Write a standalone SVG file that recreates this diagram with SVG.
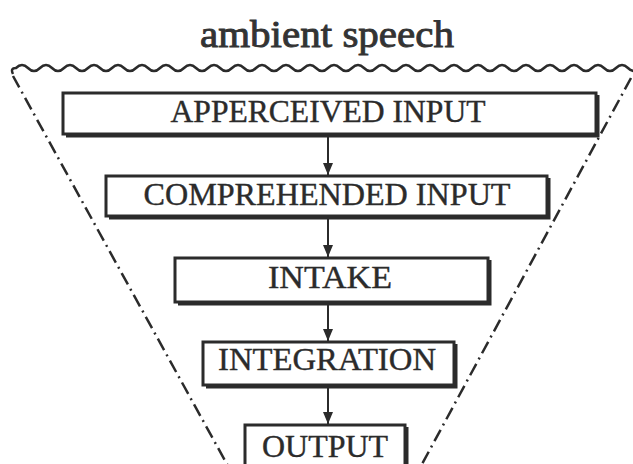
<svg xmlns="http://www.w3.org/2000/svg" width="633" height="464" viewBox="0 0 633 464">
<defs>
<style>
.box{fill:#fff;stroke:#2b2b2b;stroke-width:3}
.shadow{fill:none;stroke:#2b2b2b;stroke-width:3}
.lbl{font-family:"Liberation Serif","Times New Roman",serif;font-size:32px;fill:#2b2b2b;stroke:#2b2b2b;stroke-width:0.4;text-anchor:middle}
.title{font-family:"Liberation Serif","Times New Roman",serif;font-size:38px;fill:#333;stroke:#333;stroke-width:0.9;text-anchor:middle}
.edge{stroke:#2b2b2b;stroke-width:2;fill:none}
.wave{stroke:#2b2b2b;stroke-width:2.5;fill:none}
.dashdot{stroke:#2b2b2b;stroke-width:2.5;fill:none;stroke-dasharray:13 5 2 5}
</style>
<marker id="ah" viewBox="0 0 12 10" refX="12" refY="5" markerWidth="12" markerHeight="10" markerUnits="userSpaceOnUse" orient="auto">
<path d="M0,0 L12,5 L0,10 Z" fill="#2b2b2b"/>
</marker>
</defs>
<rect width="633" height="464" fill="#fff"/>
<text class="title" x="327" y="47" textLength="254" lengthAdjust="spacingAndGlyphs">ambient speech</text>
<g id="funnel">
<path class="wave" d="M13,74 Q10,68 16,68 q6,-6 12,0 t12,0 t12,0 t12,0 t12,0 t12,0 t12,0 t12,0 t12,0 t12,0 t12,0 t12,0 t12,0 t12,0 t12,0 t12,0 t12,0 t12,0 t12,0 t12,0 t12,0 t12,0 t12,0 t12,0 t12,0 t12,0 t12,0 t12,0 t12,0 t12,0 t12,0 t12,0 t12,0 t12,0 t12,0 t12,0 t12,0 t12,0 t12,0 t12,0 t12,0 t12,0 t12,0 t12,0 t12,0 t12,0 t12,0 t12,0 t12,0 t12,0 t12,0 t12,0 t12,0 t10,-2"/>
<line class="dashdot" x1="13" y1="76" x2="228" y2="466"/>
<line class="dashdot" x1="631" y1="78" x2="421" y2="466"/>
</g>
<g id="apperceived">
<polyline class="shadow" points="598,95 598,136 66,136"/>
<rect class="box" x="63" y="93" width="533" height="41"/>
<text class="lbl" x="328" y="122" textLength="315" lengthAdjust="spacingAndGlyphs">APPERCEIVED INPUT</text>
</g>
<g id="comprehended">
<polyline class="shadow" points="549,178 549,218 109,218"/>
<rect class="box" x="106" y="176" width="441" height="40"/>
<text class="lbl" x="327" y="205" textLength="367" lengthAdjust="spacingAndGlyphs">COMPREHENDED INPUT</text>
</g>
<g id="intake">
<polyline class="shadow" points="490,260 490,304 178,304"/>
<rect class="box" x="175" y="258" width="313" height="44"/>
<text class="lbl" x="330" y="288" textLength="124" lengthAdjust="spacingAndGlyphs">INTAKE</text>
</g>
<g id="integration">
<polyline class="shadow" points="456,344 456,387 206,387"/>
<rect class="box" x="203" y="342" width="251" height="43"/>
<text class="lbl" x="327" y="370" textLength="218" lengthAdjust="spacingAndGlyphs">INTEGRATION</text>
</g>
<g id="output">
<polyline class="shadow" points="407,427 407,470"/>
<rect class="box" x="245" y="425" width="160" height="43"/>
<text class="lbl" x="325" y="457" textLength="126" lengthAdjust="spacingAndGlyphs">OUTPUT</text>
</g>
<g id="connectors">
<line class="edge" x1="328" y1="136" x2="328" y2="175" marker-end="url(#ah)"/>
<line class="edge" x1="328" y1="219" x2="328" y2="257" marker-end="url(#ah)"/>
<line class="edge" x1="328" y1="305" x2="328" y2="341" marker-end="url(#ah)"/>
<line class="edge" x1="328" y1="388" x2="328" y2="424" marker-end="url(#ah)"/>
</g>
</svg>
